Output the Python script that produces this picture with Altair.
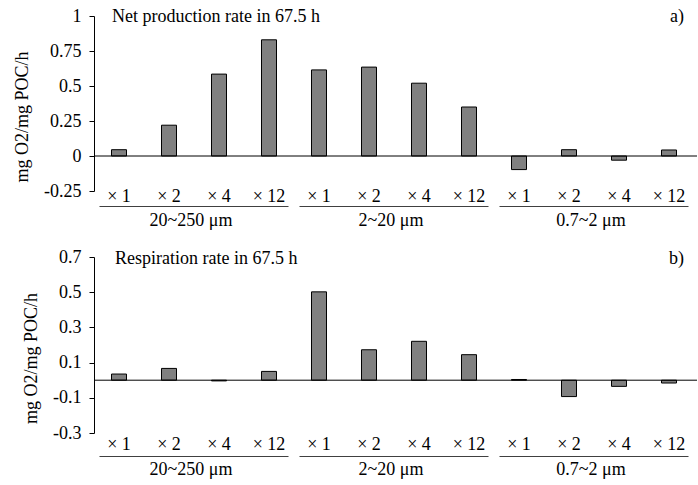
import altair as alt
import pandas as pd

# ---- data ----
group_names = ["20~250 μm", "2~20 μm", "0.7~2 μm"]
ratio_names = ["× 1", "× 2", "× 4", "× 12"]
net_production = [0.045, 0.22, 0.585, 0.83, 0.615, 0.635, 0.52, 0.35, -0.097, 0.045, -0.03, 0.043]
respiration = [0.035, 0.067, -0.004, 0.05, 0.502, 0.173, 0.221, 0.145, 0.004, -0.093, -0.035, -0.016]
net_ticks = [-0.25, 0, 0.25, 0.5, 0.75, 1]
resp_ticks = [-0.3, -0.1, 0.1, 0.3, 0.5, 0.7]
y_title = "mg O2/mg POC/h"

FONT = "Liberation Serif"
FS = 18
TFS = 18

groups = [g for g in group_names for _ in ratio_names]
ratios = [r for _ in group_names for r in ratio_names]
cats = [f"{g}|{r}" for g, r in zip(groups, ratios)]

group_df = pd.DataFrame({"group": group_names})

W = 600


def panel(values, title, tag, domain, ticks, H, title_x, title_base, lab_y, line_y, grp_y):
    df = pd.DataFrame({"cat": cats, "ratio": ratios, "group": groups, "value": values})
    xscale = alt.Scale(domain=cats, paddingInner=0.7, paddingOuter=0.35)
    gscale = alt.Scale(domain=group_names, paddingInner=0.055, paddingOuter=0.0275)
    yscale = alt.Scale(domain=domain, nice=False, zero=False)

    bars = alt.Chart(df).mark_bar(fill="#808080", stroke="black", strokeWidth=1).encode(
        x=alt.X("cat:N", scale=xscale, axis=None),
        y=alt.Y("value:Q", scale=yscale,
                axis=alt.Axis(values=ticks, tickCount=20, title=y_title, grid=False,
                              labelOverlap=False, labelBound=False,
                              domainColor="black", tickColor="black", tickSize=5,
                              labelPadding=8, titlePadding=12,
                              labelExpr="datum.value + ''", titleY=H / 2 + 13)),
    )
    zero = alt.Chart(pd.DataFrame({"value": [0]})).mark_rule(color="black", strokeWidth=1).encode(
        y=alt.Y("value:Q", scale=yscale), x=alt.value(0), x2=alt.value(W + 3)
    )
    cat_text = alt.Chart(df).mark_text(font=FONT, fontSize=FS, baseline="middle").encode(
        x=alt.X("cat:N", scale=xscale, bandPosition=0.5, axis=None),
        y=alt.value(lab_y),
        text="ratio:N",
    )
    grp_lines = alt.Chart(group_df).mark_bar(color="#404040").encode(
        x=alt.X("group:N", scale=gscale, axis=None),
        y=alt.value(line_y),
        y2=alt.value(line_y + 1),
    )
    grp_text = alt.Chart(group_df).mark_text(font=FONT, fontSize=FS, baseline="middle", dx=-3).encode(
        x=alt.X("group:N", scale=gscale, bandPosition=0.5, axis=None),
        y=alt.value(grp_y),
        text="group:N",
    )
    tdf = pd.DataFrame({"t": [title], "tag": [tag]})
    ttl = alt.Chart(tdf).mark_text(font=FONT, fontSize=TFS, align="left", baseline="alphabetic").encode(
        x=alt.value(title_x), y=alt.value(title_base), text="t:N"
    )
    tg = alt.Chart(tdf).mark_text(font=FONT, fontSize=TFS, align="right", baseline="alphabetic").encode(
        x=alt.value(590), y=alt.value(title_base), text="tag:N"
    )
    return alt.layer(bars, zero, cat_text, grp_lines, grp_text, ttl, tg).resolve_scale(
        x="independent"
    ).properties(width=W, height=H)


top = panel(net_production, "Net production rate in 67.5 h", "a)", [-0.25, 1], net_ticks,
            175, 18, 6, 181, 190, 205)
bottom = panel(respiration, "Respiration rate in 67.5 h", "b)", [-0.3, 0.7], resp_ticks,
               176, 21, 7, 188, 199, 213)

chart = alt.vconcat(top, bottom, spacing=66, bounds="flush").properties(
    padding={"left": 13, "top": 7, "right": 0, "bottom": 0}
).configure_view(stroke=None).configure_axis(
    labelFont=FONT, labelFontSize=FS, labelColor="black", labelOverlap=False,
    titleFont=FONT, titleFontSize=FS, titleColor="black", titleFontWeight="normal",
).configure_text(color="black")

chart.save("out.html", embed_options={"renderer": "svg", "actions": False})
